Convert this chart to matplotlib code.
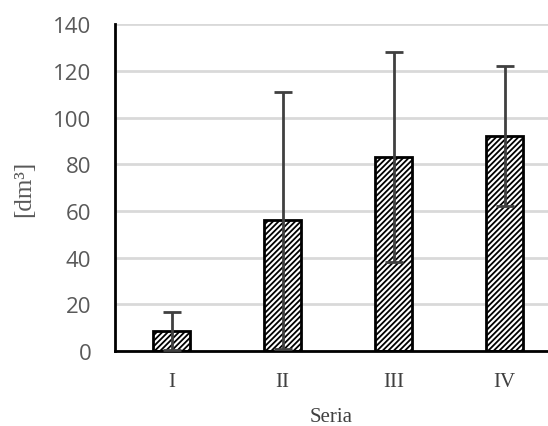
import matplotlib.pyplot as plt
import numpy as np

series = ["I", "II", "III", "IV"]
means = [8.5, 56, 83, 92]
errors = [8, 55, 45, 30]
yticks = [0, 20, 40, 60, 80, 100, 120, 140]

plt.rcParams['hatch.linewidth'] = 1.3

fig = plt.figure(figsize=(5.48, 4.27), dpi=100)
ax = fig.add_axes([0.21, 0.176, 0.79, 0.765])

x = np.arange(len(series))
ax.bar(x, means, width=0.33, facecolor='white', edgecolor='black',
       linewidth=2, hatch='//////', zorder=2)
ax.errorbar(x, means, yerr=errors, fmt='none', ecolor='#404040',
            elinewidth=2, capsize=6.5, capthick=2, zorder=3)

ax.set_xlim(-0.51, 3.39)
ax.set_ylim(0, 140)
ax.set_yticks(yticks)
ax.set_xticks(x, series, fontfamily='Liberation Serif', fontsize=15,
              color='#404040')
ax.tick_params(axis='y', labelsize=16, labelcolor='#595959', length=0, pad=17)
ax.tick_params(axis='x', length=0, pad=15)
for lbl in ax.get_yticklabels():
    lbl.set_fontfamily('Open Sans')

ax.grid(axis='y', color='#d9d9d9', linewidth=2, zorder=0)
ax.set_axisbelow(True)
for side in ['top', 'right']:
    ax.spines[side].set_visible(False)
ax.spines['left'].set_linewidth(2)
ax.spines['bottom'].set_linewidth(2)

ax.set_xlabel('Seria', fontfamily='Liberation Serif', fontsize=15,
              color='#404040', labelpad=12)
ax.set_ylabel('[dm³]', fontfamily='Liberation Serif', fontsize=18,
              color='#595959')
ax.yaxis.set_label_coords(-0.185, 0.5)

plt.savefig('out.png', dpi=100)
